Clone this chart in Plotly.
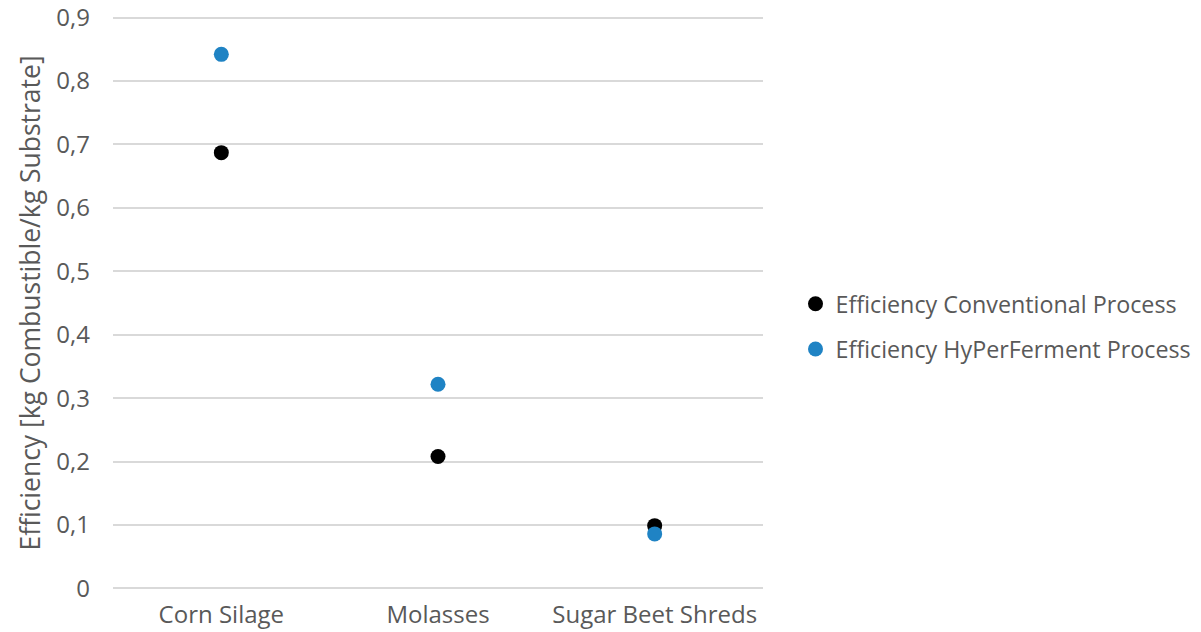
import plotly.graph_objects as go

categories = ["Corn Silage", "Molasses", "Sugar Beet Shreds"]
conventional = [0.687, 0.208, 0.099]
hyperferment = [0.842, 0.322, 0.086]
tick_vals = [0, 0.1, 0.2, 0.3, 0.4, 0.5, 0.6, 0.7, 0.8, 0.9]
tick_text = ["0", "0,1", "0,2", "0,3", "0,4", "0,5", "0,6", "0,7", "0,8", "0,9"]

grey = "#595959"
font = dict(family="Open Sans, Noto Sans, sans-serif", size=24, color=grey)

fig = go.Figure()
fig.add_trace(go.Scatter(x=categories, y=conventional, mode="markers",
                         name="Efficiency Conventional Process", legendgroup="a",
                         marker=dict(color="#000000", size=15)))
fig.add_trace(go.Scatter(x=categories, y=hyperferment, mode="markers",
                         name="Efficiency HyPerFerment Process", legendgroup="b",
                         marker=dict(color="#1f83c4", size=15)))

fig.update_layout(
    width=1201, height=632,
    margin=dict(l=113, r=438, t=15, b=41, autoexpand=False),
    paper_bgcolor="white", plot_bgcolor="white",
    font=font,
    showlegend=True,
    legend=dict(x=1.05, y=0.459, xanchor="left", yanchor="middle",
                font=dict(size=23.3, color=grey), itemwidth=30,
                tracegroupgap=12),
    xaxis=dict(range=[-0.5, 2.5], showgrid=False, zeroline=False,
               showline=False, ticks="", automargin=False,
               ticklabelstandoff=7,
               tickfont=dict(size=24, color=grey)),
    yaxis=dict(range=[-0.004, 0.904], tickvals=tick_vals, ticktext=tick_text,
               showgrid=True, gridcolor="#d9d9d9", gridwidth=1.5,
               zeroline=False, showline=False, ticks="", automargin=False,
               ticklabelstandoff=22, ticklabeloverflow="allow",
               tickfont=dict(size=24, color=grey),
               title=dict(text="Efficiency [kg Combustible/kg Substrate]",
                          font=dict(size=26.5, color=grey), standoff=8)),
)

fig.write_html("out.html",
               config={"displayModeBar": False},
               post_script="document.body.style.margin='0';document.body.style.padding='0';")
